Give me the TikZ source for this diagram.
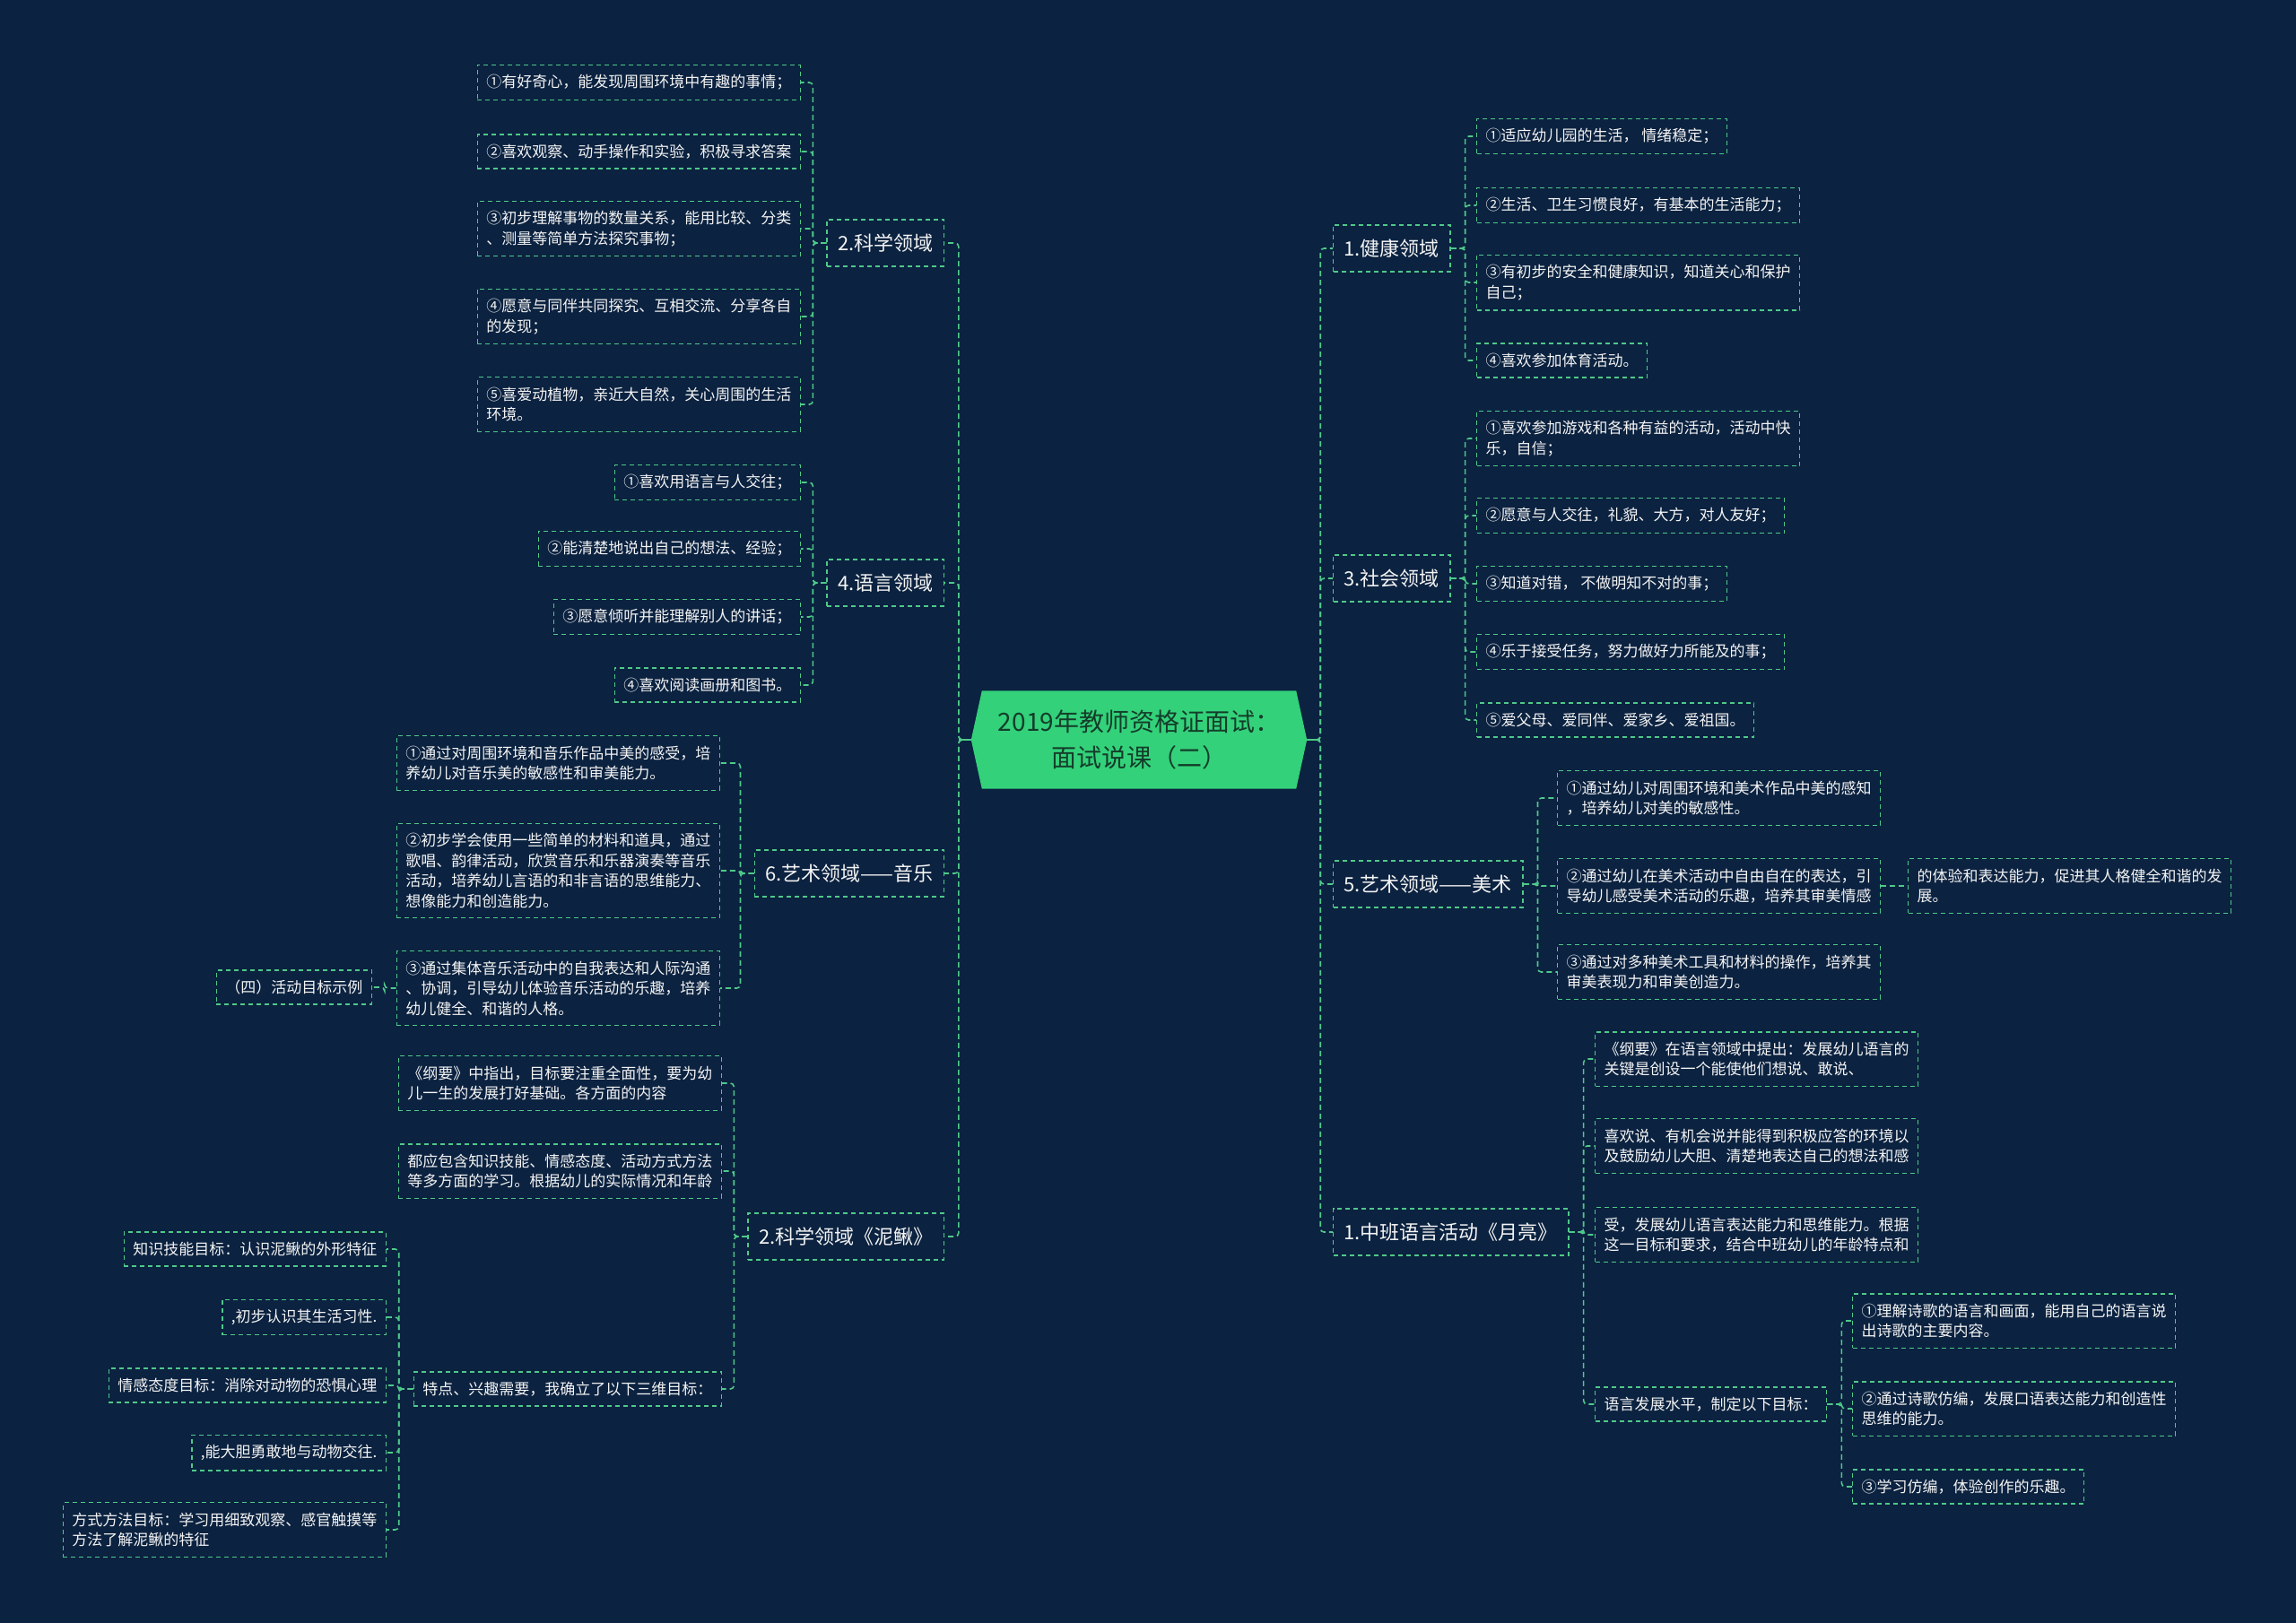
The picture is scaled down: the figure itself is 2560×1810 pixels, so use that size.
\documentclass[tikz,border=0pt]{standalone}
\usepackage{fontspec}
\newfontfamily\cjk{Noto Sans CJK SC}
\usetikzlibrary{backgrounds}
\definecolor{bgnavy}{HTML}{0B2240}
\definecolor{dashgreen}{HTML}{4FC98A}
\definecolor{rootgreen}{HTML}{33D17A}
\definecolor{roottext}{HTML}{143D2A}
\definecolor{leaftext}{HTML}{F4F4F4}
\tikzset{
  leaf/.style={draw=dashgreen, line width=1.3pt, dash pattern=on 5pt off 4pt,
    text=leaftext, font=\cjk\fontsize{17}{22.5}\selectfont, align=left,
    inner xsep=10pt, inner ysep=11pt},
  topic/.style={leaf, font=\cjk\fontsize{22}{26}\selectfont, inner xsep=12pt,
    minimum height=52pt},
  link/.style={dashgreen, line width=1.6pt, dash pattern=on 6pt off 4pt,
    rounded corners=4pt},
}
\begin{document}
\begin{tikzpicture}[x=1pt,y=-1pt]
\begin{scope}[on background layer]
  \fill[bgnavy] (0,0) rectangle (2560,1810);
\end{scope}
\useasboundingbox (0,0) rectangle (2560,1810);

% centre
\node[font=\cjk\fontsize{28}{40}\selectfont, text=roottext, align=center,
  minimum width=350pt, minimum height=109pt, inner sep=0pt] (root) at (1270,825)
  {2019年教师资格证面试：\\面试说课（二）};
\coordinate (rootL) at ([xshift=-12pt]root.west);
\coordinate (rootR) at ([xshift=12pt]root.east);
\begin{scope}[on background layer]
  \fill[rootgreen] (rootL) -- (root.north west) -- (root.north east) -- (rootR)
    -- (root.south east) -- (root.south west) -- cycle;
\end{scope}

% main branches
\node[topic, anchor=east] (sci) at (1053,271) {2.科学领域};
\node[topic, anchor=east] (lang) at (1053,650) {4.语言领域};
\node[topic, anchor=east] (music) at (1053,974) {6.艺术领域——音乐};
\node[topic, anchor=east] (loach) at (1053,1379) {2.科学领域《泥鳅》};
\node[topic, anchor=west] (health) at (1486,277) {1.健康领域};
\node[topic, anchor=west] (social) at (1486,645) {3.社会领域};
\node[topic, anchor=west] (art) at (1486,986) {5.艺术领域——美术};
\node[topic, anchor=west] (moon) at (1486,1374) {1.中班语言活动《月亮》};
\draw[dashgreen, line width=1.6pt] (rootL) -- ++(-14,0);
\draw[dashgreen, line width=1.6pt] (rootR) -- ++(15,0);
\foreach \t in {sci,lang,music,loach}
  \draw[link] (rootL) -- ++(-14,0) |- (\t.east);
\foreach \t in {health,social,art,moon}
  \draw[link] (rootR) -- ++(15,0) |- (\t.west);

% left side
\foreach \n/\y/\txt in {
  1/92/{①有好奇心，能发现周围环境中有趣的事情；},
  2/169/{②喜欢观察、动手操作和实验，积极寻求答案},
  3/255/{③初步理解事物的数量关系，能用比较、分类\\、测量等简单方法探究事物；},
  4/353/{④愿意与同伴共同探究、互相交流、分享各自\\的发现；},
  5/451/{⑤喜爱动植物，亲近大自然，关心周围的生活\\环境。}}{
  \node[leaf, anchor=east] (sci\n) at (893,\y) {\txt};
  \draw[link] (sci.west) -- ++(-15,0) |- (sci\n.east);
}
\foreach \n/\y/\txt in {
  1/538/{①喜欢用语言与人交往；},
  2/612/{②能清楚地说出自己的想法、经验；},
  3/688/{③愿意倾听并能理解别人的讲话；},
  4/764/{④喜欢阅读画册和图书。}}{
  \node[leaf, anchor=east] (lang\n) at (893,\y) {\txt};
  \draw[link] (lang.west) -- ++(-15,0) |- (lang\n.east);
}
\foreach \n/\y/\txt in {
  1/851/{①通过对周围环境和音乐作品中美的感受，培\\养幼儿对音乐美的敏感性和审美能力。},
  2/971/{②初步学会使用一些简单的材料和道具，通过\\歌唱、韵律活动，欣赏音乐和乐器演奏等音乐\\活动，培养幼儿言语的和非言语的思维能力、\\想像能力和创造能力。},
  3/1102/{③通过集体音乐活动中的自我表达和人际沟通\\、协调，引导幼儿体验音乐活动的乐趣，培养\\幼儿健全、和谐的人格。}}{
  \node[leaf, anchor=east] (music\n) at (803,\y) {\txt};
  \draw[link] (music.west) -- ++(-15,0) |- (music\n.east);
}
\node[leaf, anchor=east] (sample) at (415,1101) {（四）活动目标示例};
\draw[link] (music3.west) -- ++(-13,0) |- (sample.east);

\node[leaf, anchor=east] (loach1) at (805,1208) {《纲要》中指出，目标要注重全面性，要为幼\\儿一生的发展打好基础。各方面的内容};
\node[leaf, anchor=east] (loach2) at (805,1306) {都应包含知识技能、情感态度、活动方式方法\\等多方面的学习。根据幼儿的实际情况和年龄};
\node[leaf, anchor=east] (trait) at (805,1549) {特点、兴趣需要，我确立了以下三维目标：};
\foreach \t in {loach1,loach2,trait}
  \draw[link] (loach.west) -- ++(-15,0) |- (\t.east);
\foreach \n/\y/\txt in {
  1/1393/{知识技能目标：认识泥鳅的外形特征},
  2/1469/{,初步认识其生活习性.},
  3/1545/{情感态度目标：消除对动物的恐惧心理},
  4/1620/{,能大胆勇敢地与动物交往.},
  5/1706/{方式方法目标：学习用细致观察、感官触摸等\\方法了解泥鳅的特征}}{
  \node[leaf, anchor=east] (goal\n) at (431,\y) {\txt};
  \draw[link] (trait.west) -- ++(-16,0) |- (goal\n.east);
}

% right side
\foreach \n/\y/\txt in {
  1/152/{①适应幼儿园的生活， 情绪稳定；},
  2/229/{②生活、卫生习惯良好，有基本的生活能力；},
  3/315/{③有初步的安全和健康知识，知道关心和保护\\自己；},
  4/402/{④喜欢参加体育活动。}}{
  \node[leaf, anchor=west] (health\n) at (1646,\y) {\txt};
  \draw[link] (health.east) -- ++(16,0) |- (health\n.west);
}
\foreach \n/\y/\txt in {
  1/489/{①喜欢参加游戏和各种有益的活动，活动中快\\乐，自信；},
  2/575/{②愿意与人交往，礼貌、大方，对人友好；},
  3/651/{③知道对错， 不做明知不对的事；},
  4/727/{④乐于接受任务，努力做好力所能及的事；},
  5/803/{⑤爱父母、爱同伴、爱家乡、爱祖国。}}{
  \node[leaf, anchor=west] (social\n) at (1646,\y) {\txt};
  \draw[link] (social.east) -- ++(16,0) |- (social\n.west);
}
\foreach \n/\y/\txt in {
  1/890/{①通过幼儿对周围环境和美术作品中美的感知\\，培养幼儿对美的敏感性。},
  2/988/{②通过幼儿在美术活动中自由自在的表达，引\\导幼儿感受美术活动的乐趣，培养其审美情感},
  3/1084/{③通过对多种美术工具和材料的操作，培养其\\审美表现力和审美创造力。}}{
  \node[leaf, anchor=west] (art\n) at (1736,\y) {\txt};
  \draw[link] (art.east) -- ++(16,0) |- (art\n.west);
}
\node[leaf, anchor=west] (artmore) at (2127,988) {的体验和表达能力，促进其人格健全和谐的发\\展。};
\draw[link] (art2.east) -- (artmore.west);

\foreach \n/\y/\txt in {
  1/1181/{《纲要》在语言领域中提出：发展幼儿语言的\\关键是创设一个能使他们想说、敢说、},
  2/1278/{喜欢说、有机会说并能得到积极应答的环境以\\及鼓励幼儿大胆、清楚地表达自己的想法和感},
  3/1377/{受，发展幼儿语言表达能力和思维能力。根据\\这一目标和要求，结合中班幼儿的年龄特点和},
  4/1566/{语言发展水平，制定以下目标：}}{
  \node[leaf, anchor=west] (moon\n) at (1778,\y) {\txt};
  \draw[link] (moon.east) -- ++(16,0) |- (moon\n.west);
}
\foreach \n/\y/\txt in {
  1/1473/{①理解诗歌的语言和画面，能用自己的语言说\\出诗歌的主要内容。},
  2/1571/{②通过诗歌仿编，发展口语表达能力和创造性\\思维的能力。},
  3/1658/{③学习仿编，体验创作的乐趣。}}{
  \node[leaf, anchor=west] (poem\n) at (2065,\y) {\txt};
  \draw[link] (moon4.east) -- ++(16,0) |- (poem\n.west);
}
\end{tikzpicture}
\end{document}
